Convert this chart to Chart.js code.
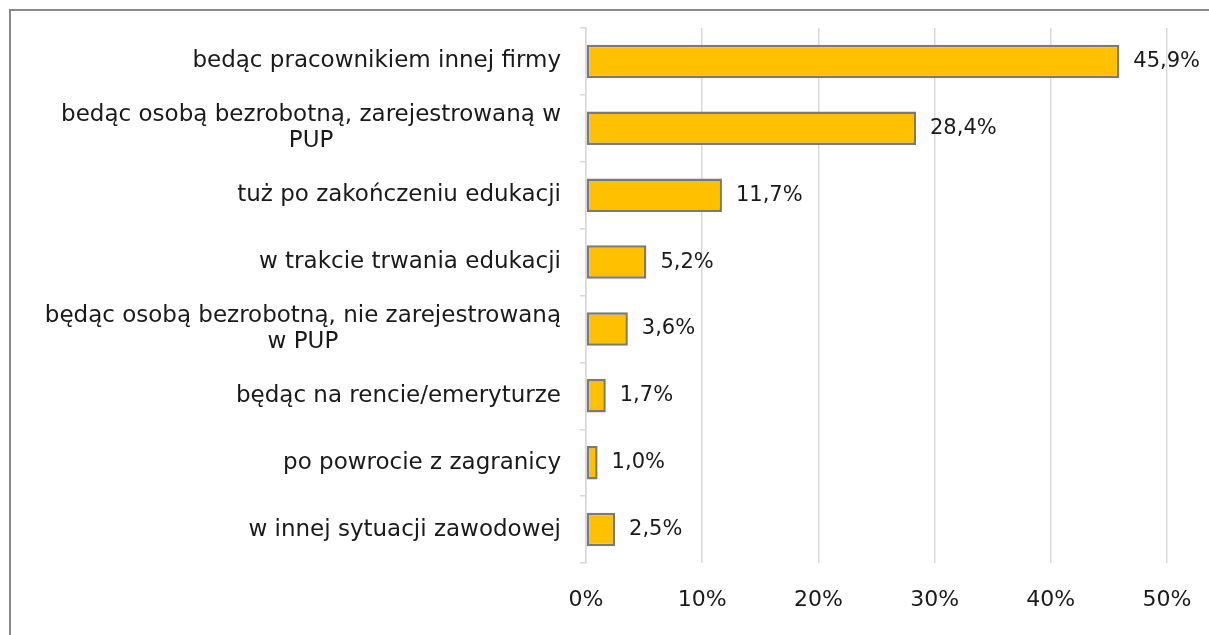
<!DOCTYPE html>
<html>
<head>
<meta charset="utf-8">
<script src="https://cdn.jsdelivr.net/npm/chart.js@4"></script>
<style>
  html, body { margin: 0; padding: 0; background: #fff; overflow: hidden; }
  #frame { position: absolute; left: 9px; top: 9px; width: 1210px; height: 640px;
           border-left: 2px solid #8a8a8a; border-top: 2px solid #8a8a8a; }
  #wrap { position: absolute; left: 0; top: 0; width: 1209px; height: 635px; }
</style>
</head>
<body>
<div id="frame"></div>
<div id="wrap"><canvas id="chart"></canvas></div>
<script>
const categories = [
  ['bedąc pracownikiem innej firmy'],
  ['bedąc osobą bezrobotną, zarejestrowaną w', 'PUP'],
  ['tuż po zakończeniu edukacji'],
  ['w trakcie trwania edukacji'],
  ['będąc osobą bezrobotną, nie zarejestrowaną', 'w PUP'],
  ['będąc na rencie/emeryturze'],
  ['po powrocie z zagranicy'],
  ['w innej sytuacji zawodowej']
];
const shares = [45.9, 28.4, 11.7, 5.2, 3.6, 1.7, 1.0, 2.5];
const xTicks = [0, 10, 20, 30, 40, 50];

const FONT = '"DejaVu Sans", sans-serif';
const TEXT = '#1a1a1a';

// draws wrapped category labels (lines centred, block right-aligned) and value labels
const labelsPlugin = {
  id: 'labels',
  afterDraw(chart) {
    const ctx = chart.ctx;
    const y = chart.scales.y;
    const meta = chart.getDatasetMeta(0);
    ctx.save();
    ctx.font = '23px ' + FONT;
    ctx.fillStyle = TEXT;
    ctx.textBaseline = 'middle';
    const right = y.right - 25;
    const lh = 26;
    chart.data.labels.forEach((lines, i) => {
      const cy = y.getPixelForValue(i);
      const w = Math.max(...lines.map(l => ctx.measureText(l).width));
      const cx = right - w / 2;
      ctx.textAlign = 'center';
      lines.forEach((l, k) => {
        ctx.fillText(l, cx, cy + (k - (lines.length - 1) / 2) * lh);
      });
    });
    ctx.font = '21px ' + FONT;
    ctx.textAlign = 'left';
    meta.data.forEach((bar, i) => {
      const v = chart.data.datasets[0].data[i];
      ctx.fillText(v.toFixed(1).replace('.', ',') + '%', bar.x + 14, bar.y);
    });
    ctx.restore();
  }
};

new Chart(document.getElementById('chart'), {
  type: 'bar',
  data: {
    labels: categories,
    datasets: [{
      data: shares,
      backgroundColor: '#FFC000',
      borderColor: '#7a7a7a',
      borderWidth: 2.5,
      borderSkipped: false,
      barPercentage: 0.5,
      categoryPercentage: 1
    }]
  },
  options: {
    indexAxis: 'y',
    responsive: true,
    maintainAspectRatio: false,
    animation: false,
    layout: { padding: { top: 28, right: 42, left: 0, bottom: 0 } },
    plugins: { legend: { display: false }, tooltip: { enabled: false } },
    scales: {
      x: {
        min: 0, max: 50,
        afterBuildTicks(s) { s.ticks = xTicks.map(v => ({ value: v })); },
        afterFit(s) { s.height = 72; s.paddingLeft = 0; s.paddingRight = 0; },
        grid: { color: '#d9d9d9', lineWidth: 1.5, drawTicks: false },
        border: { display: false },
        ticks: {
          padding: 24,
          color: TEXT,
          font: { family: FONT, size: 22 },
          callback: v => v + '%'
        }
      },
      y: {
        afterFit(s) { s.width = 586; },
        grid: { drawOnChartArea: false, offset: true, color: '#d9d9d9', tickLength: 6, lineWidth: 1.5 },
        border: { color: '#d9d9d9', width: 1.5 },
        ticks: { display: false }
      }
    }
  },
  plugins: [labelsPlugin]
});
</script>
</body>
</html>
